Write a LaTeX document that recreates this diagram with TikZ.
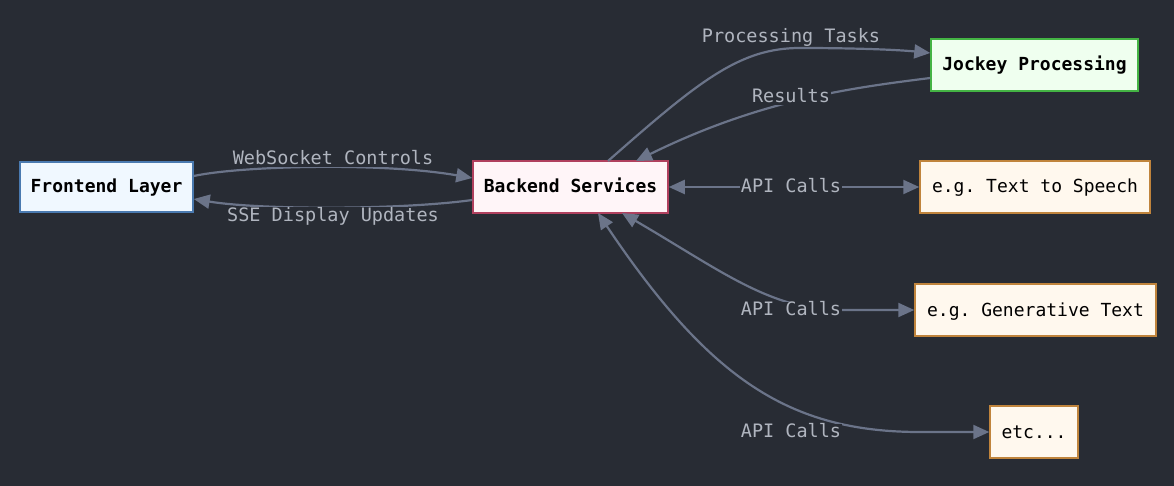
\documentclass[tikz,border=0pt]{standalone}
\usepackage{fontspec}
\setmonofont{DejaVu Sans Mono}
\usetikzlibrary{arrows.meta}
\definecolor{bgc}{HTML}{282C34}
\definecolor{edgec}{HTML}{6B7489}
\definecolor{labc}{HTML}{B0B5BF}
\definecolor{feFill}{HTML}{F0F8FF}\definecolor{feDraw}{HTML}{4A7AB0}
\definecolor{beFill}{HTML}{FFF5F8}\definecolor{beDraw}{HTML}{B0405E}
\definecolor{joFill}{HTML}{EFFFEF}\definecolor{joDraw}{HTML}{44B444}
\definecolor{apFill}{HTML}{FFF8EE}\definecolor{apDraw}{HTML}{C0843C}
\tikzset{
  box/.style={draw, line width=1.5pt, minimum height=52pt, inner sep=0pt,
    text height=13pt, text depth=1pt,
    font=\ttfamily\bfseries\fontsize{18}{20}\selectfont, text=black},
  apibox/.style={box, fill=apFill, draw=apDraw, font=\ttfamily\fontsize{18}{20}\selectfont},
  conn/.style={draw=edgec, line width=2.2pt, -{Triangle[length=16pt,width=14pt]}},
  biconn/.style={conn, {Triangle[length=16pt,width=14pt]}-{Triangle[length=16pt,width=14pt]}},
  lab/.style={fill=bgc, text=labc, inner sep=1pt, text height=13pt, text depth=2pt,
    font=\ttfamily\fontsize{18.5}{20}\selectfont}
}
\begin{document}
\begin{tikzpicture}[x=1pt,y=-1pt]
\fill[bgc] (0,0) rectangle (1174,486);
\useasboundingbox (0,0) rectangle (1174,486);
% nodes
\node[box, fill=feFill, draw=feDraw, minimum width=173pt, minimum height=50pt] (fe) at (106.5,187) {Frontend Layer};
\node[box, fill=beFill, draw=beDraw, minimum width=195pt] (be) at (570.5,187) {Backend Services};
\node[box, fill=joFill, draw=joDraw, minimum width=207pt] (jo) at (1034.5,65) {Jockey Processing};
\node[apibox, minimum width=230pt] (tts) at (1035,187) {e.g. Text to Speech};
\node[apibox, minimum width=241pt] (gen) at (1035.5,310) {e.g. Generative Text};
\node[apibox, minimum width=88pt] (etc) at (1034,432) {etc...};
% anchors
\coordinate (beTopA) at (608,161);
\coordinate (beTopB) at (636,161);
\coordinate (beBotA) at (598,213);
\coordinate (beBotB) at (622,213);
% edges
\draw[conn] (fe.east |- 0,176) .. controls (240,166) and (380,162) .. (be.west |- 0,178);
\node[lab] (l1) at (333,159) {WebSocket Controls};
\draw[conn] (be.west |- 0,200) .. controls (400,210) and (260,210) .. (fe.east |- 0,199);
\node[lab] (l2) at (333,216) {SSE Display Updates};
\draw[conn] (beTopA) .. controls (700,80) and (740,48) .. (800,48) .. controls (860,48) and (900,50) .. (jo.west |- 0,53);
\node[lab] (l3) at (791,37) {Processing Tasks};
\draw[conn] (jo.west |- 0,78) .. controls (850,88) and (760,100) .. (beTopB);
\node[lab] (l4) at (791,97) {Results};
\draw[biconn] (be.east) -- (tts.west);
\node[lab] (l5) at (791,187) {API Calls};
\draw[biconn] (beBotB) .. controls (720,270) and (770,310) .. (840,310) -- (gen.west);
\node[lab] (l6) at (791,310) {API Calls};
\draw[biconn] (beBotA) .. controls (710,380) and (790,432) .. (920,432) -- (etc.west);
\node[lab] (l7) at (791,432) {API Calls};
\end{tikzpicture}
\end{document}
